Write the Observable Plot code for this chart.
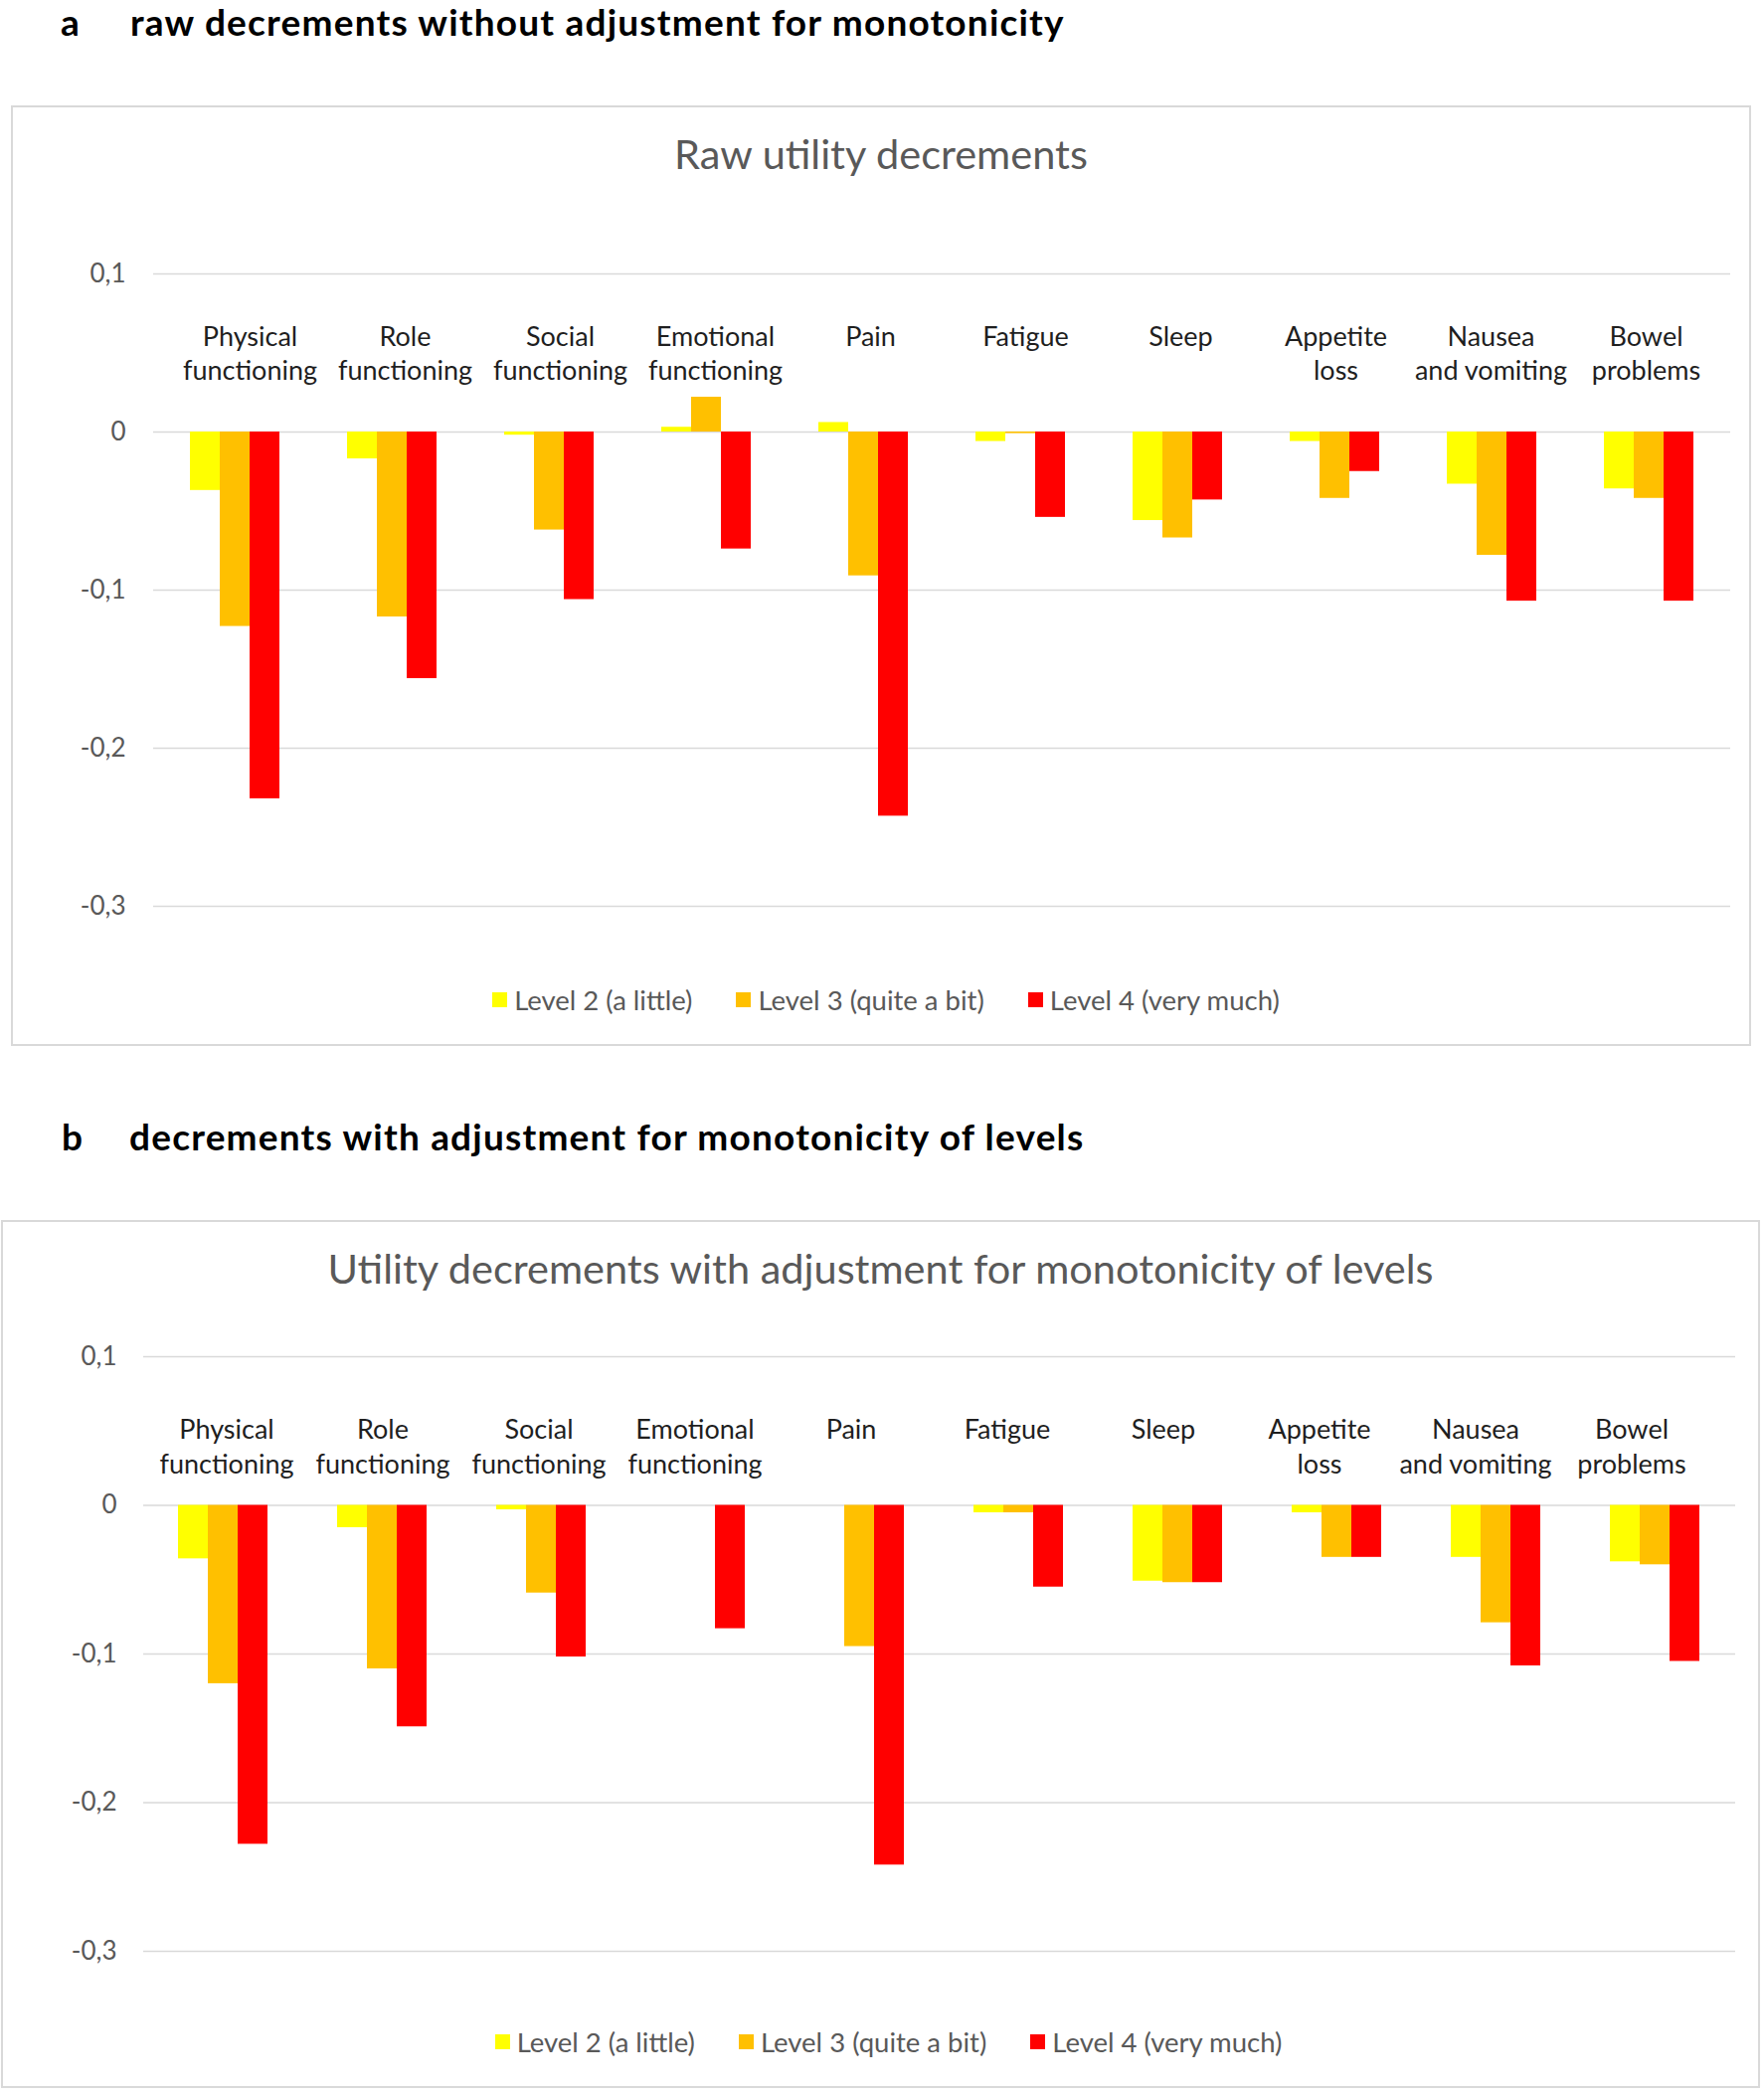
<!DOCTYPE html>
<html>
<head>
<meta charset="utf-8">
<script src="https://cdn.jsdelivr.net/npm/d3@7"></script>
<script src="https://cdn.jsdelivr.net/npm/@observablehq/plot@0.6"></script>
<style>
  html, body { margin: 0; padding: 0; background: #fff; }
  #page { position: relative; width: 1774px; height: 2104px; overflow: hidden; background: #fff; font-family: Lato, "Open Sans", sans-serif; }
  .abs { position: absolute; }
  .hdr { font-weight: 700; font-size: 37px; line-height: 44.4px; letter-spacing: 1.2px; color: #000; white-space: nowrap; }
  .box { box-sizing: border-box; border: 2px solid #d9d9d9; background: #fff; }
  .title { text-align: center; font-size: 41.5px; line-height: 49.8px; color: #595959; white-space: nowrap; }
  .legend { display: flex; justify-content: center; align-items: center; font-size: 27.5px; line-height: 33px; color: #595959; white-space: nowrap; }
  .legend .item { display: flex; align-items: center; margin: 0 22px; }
  .legend .sw { width: 15px; height: 15px; margin-right: 7px; }
  svg { position: absolute; left: 0; }
</style>
</head>
<body>
<div id="page"></div>
<script>
// ---------- data ----------
const categories = [
  "Physical\nfunctioning", "Role\nfunctioning", "Social\nfunctioning", "Emotional\nfunctioning",
  "Pain", "Fatigue", "Sleep", "Appetite\nloss", "Nausea\nand vomiting", "Bowel\nproblems"
];
const levels = ["Level 2 (a little)", "Level 3 (quite a bit)", "Level 4 (very much)"];
const levelColors = ["#ffff00", "#ffc000", "#ff0000"];

// a: raw decrements
const rawLevel2 = [-0.037, -0.017, -0.002, 0.003, 0.006, -0.006, -0.056, -0.006, -0.033, -0.036];
const rawLevel3 = [-0.123, -0.117, -0.062, 0.022, -0.091, -0.001, -0.067, -0.042, -0.078, -0.042];
const rawLevel4 = [-0.232, -0.156, -0.106, -0.074, -0.243, -0.054, -0.043, -0.025, -0.107, -0.107];

// b: adjusted for monotonicity
const adjLevel2 = [-0.036, -0.015, -0.003, 0, 0, -0.005, -0.051, -0.005, -0.035, -0.038];
const adjLevel3 = [-0.120, -0.110, -0.059, 0, -0.095, -0.005, -0.052, -0.035, -0.079, -0.040];
const adjLevel4 = [-0.228, -0.149, -0.102, -0.083, -0.242, -0.055, -0.052, -0.035, -0.108, -0.105];

const yTicks = [0.1, 0, -0.1, -0.2, -0.3];
const yDomain = [-0.3, 0.1];

const headerA = ["a", "raw decrements without adjustment for monotonicity"];
const headerB = ["b", "decrements with adjustment for monotonicity of levels"];
const titleA = "Raw utility decrements";
const titleB = "Utility decrements with adjustment for monotonicity of levels";

function toRows(l2, l3, l4) {
  const rows = [];
  categories.forEach((c, i) => {
    [l2, l3, l4].forEach((arr, j) => rows.push({category: c, level: levels[j], value: arr[i]}));
  });
  return rows;
}
const fmt = d => d === 0 ? "0" : d.toFixed(1).replace(".", ",");

// ---------- layout helpers ----------
const page = document.getElementById("page");
function el(tag, cls, css, text) {
  const e = document.createElement(tag);
  if (cls) e.className = cls;
  Object.assign(e.style, css || {});
  if (text != null) e.textContent = text;
  page.appendChild(e);
  return e;
}

function chart(cfg) {
  // header
  el("div", "abs hdr", {left: cfg.hdrLeftA + "px", top: cfg.hdrTop + "px"}, cfg.header[0]);
  el("div", "abs hdr", {left: cfg.hdrLeftB + "px", top: cfg.hdrTop + "px"}, cfg.header[1]);
  // box
  el("div", "abs box", {left: cfg.box[0] + "px", top: cfg.box[1] + "px", width: cfg.box[2] + "px", height: cfg.box[3] + "px"});
  // title
  el("div", "abs title", {left: cfg.box[0] + "px", width: cfg.box[2] + "px", top: cfg.titleTop + "px"}, cfg.title);

  const common = {
    width: 1774,
    height: cfg.height,
    marginLeft: cfg.ml, marginRight: cfg.mr, marginTop: cfg.mt, marginBottom: cfg.mb,
    style: {background: "transparent", fontFamily: "Lato", fontSize: "26px", color: "#595959", overflow: "visible"}
  };

  // grid, y axis, category labels
  const grid = Plot.plot({
    ...common,
    x: {type: "band", domain: categories, padding: 0, axis: null, insetLeft: cfg.lblInsetL, insetRight: cfg.lblInsetR},
    y: {domain: yDomain, ticks: yTicks, tickSize: 0, tickPadding: cfg.tickPad, tickFormat: fmt, label: null},
    marks: [
      Plot.ruleY(yTicks, {stroke: "#d9d9d9", strokeWidth: 1.6}),
      Plot.text(categories, {
        x: d => d, y: () => 0, text: d => d,
        lineAnchor: "top", dy: cfg.labelDy, lineHeight: cfg.lineHeight,
        fontSize: 27, fill: "#1f1f1f"
      })
    ]
  });
  grid.style.top = cfg.svgTop + "px";
  page.appendChild(grid);

  // bars
  const rows = cfg.rows;
  const bars = Plot.plot({
    ...common,
    facet: {data: rows, x: "category"},
    fx: {domain: categories, axis: null, paddingInner: 0.422, paddingOuter: 0.211, label: null},
    x: {domain: levels, padding: 0, axis: null},
    y: {domain: yDomain, axis: null},
    color: {domain: levels, range: levelColors},
    marks: [
      Plot.barY(rows, {x: "level", y1: () => 0, y2: "value", fill: "level"})
    ]
  });
  bars.style.top = cfg.svgTop + "px";
  page.appendChild(bars);

  // legend
  const lg = el("div", "abs legend", {left: cfg.legendLeft + "px", width: cfg.box[2] + "px", top: cfg.legendTop + "px"});
  levels.forEach((l, i) => {
    const it = document.createElement("div"); it.className = "item";
    const sw = document.createElement("div"); sw.className = "sw"; sw.style.background = levelColors[i];
    const tx = document.createElement("span"); tx.textContent = l;
    it.appendChild(sw); it.appendChild(tx); lg.appendChild(it);
  });
}

chart({
  header: headerA, hdrLeftA: 61, hdrLeftB: 131, hdrTop: 0,
  box: [11, 106, 1750, 946], title: titleA, titleTop: 129.5,
  svgTop: 230, height: 701, ml: 154, mr: 34, mt: 45, mb: 20, tickPad: 28,
  lblInsetL: 15, lblInsetR: 4,
  labelDy: -111, lineHeight: 1.274,
  rows: toRows(rawLevel2, rawLevel3, rawLevel4),
  legendLeft: 16, legendTop: 988.5
});

chart({
  header: headerB, hdrLeftA: 62, hdrLeftB: 130, hdrTop: 1120.5,
  box: [1, 1227, 1769, 873], title: titleB, titleTop: 1251,
  svgTop: 1320, height: 662, ml: 144, mr: 29, mt: 44, mb: 20, tickPad: 27,
  lblInsetL: 4, lblInsetR: 26,
  labelDy: -92, lineHeight: 1.3,
  rows: toRows(adjLevel2, adjLevel3, adjLevel4),
  legendLeft: 9, legendTop: 2036.5
});
</script>
</body>
</html>
